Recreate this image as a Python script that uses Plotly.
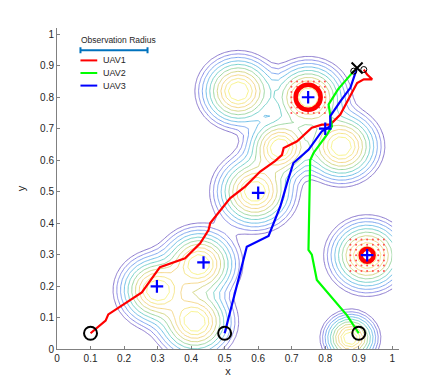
import numpy as np
import plotly.graph_objects as go

#%% Dados

tick_vals = [0, 0.1, 0.2, 0.3, 0.4, 0.5, 0.6, 0.7, 0.8, 0.9, 1]
tick_text = ['0', '0.1', '0.2', '0.3', '0.4', '0.5', '0.6', '0.7', '0.8', '0.9', '1']

# picos do campo de probabilidade (centro e largura)
peak_x = [0.297, 0.425, 0.412, 0.59, 0.665, 0.541, 0.75, 0.848, 0.925, 0.875]
peak_y = [0.187, 0.27, 0.086, 0.5, 0.64, 0.819, 0.8, 0.644, 0.297, 0.035]
peak_sigma = [0.05, 0.05, 0.05, 0.052, 0.045, 0.05, 0.05, 0.05, 0.05, 0.035]

# trajetorias
uav1_x = [0.10, 0.145, 0.153, 0.253, 0.307, 0.382, 0.427, 0.452, 0.457, 0.487, 0.516, 0.561,
          0.606, 0.651, 0.671, 0.676, 0.716, 0.76, 0.79, 0.815, 0.845, 0.895, 0.915, 0.94,
          0.925, 0.915]
uav1_y = [0.05, 0.09, 0.11, 0.18, 0.26, 0.288, 0.336, 0.378, 0.40, 0.442, 0.479, 0.516,
          0.564, 0.598, 0.617, 0.639, 0.66, 0.703, 0.713, 0.713, 0.745, 0.845, 0.857, 0.857,
          0.872, 0.888]

uav2_x = [0.9, 0.865, 0.775, 0.76, 0.75, 0.755, 0.755, 0.765, 0.805, 0.82, 0.81, 0.838, 0.885]
uav2_y = [0.05, 0.107, 0.219, 0.3, 0.315, 0.52, 0.6, 0.623, 0.681, 0.708, 0.777, 0.825, 0.883]

uav3_x = [0.5, 0.566, 0.631, 0.666, 0.686, 0.705, 0.75, 0.79, 0.815, 0.815, 0.845, 0.875, 0.895]
uav3_y = [0.05, 0.325, 0.359, 0.453, 0.527, 0.591, 0.633, 0.692, 0.708, 0.74, 0.787, 0.83, 0.893]

uav_names = ['UAV1', 'UAV2', 'UAV3']
uav_colors = ['#ff0000', '#00ff00', '#0000ff']

start_x = [0.1, 0.5, 0.9]
start_y = [0.05, 0.05, 0.05]
end_x = [0.885, 0.915]
end_y = [0.883, 0.888]
goal_x = [0.895]
goal_y = [0.893]

# alvos
target_x = [0.298, 0.437, 0.6, 0.749, 0.80, 0.925]
target_y = [0.199, 0.275, 0.496, 0.8, 0.70, 0.298]
found_x = [0.749, 0.925]
found_y = [0.8, 0.298]
found_r = [0.045, 0.025]
particle_offsets = [-0.05, -0.033, -0.017, 0, 0.017, 0.033, 0.05]

obs_radius = 0.1

#%% Campo

gx = np.linspace(0, 1, 51)
GX, GY = np.meshgrid(gx, gx)
Z = np.zeros_like(GX)
for px, py, s in zip(peak_x, peak_y, peak_sigma):
    Z += np.exp(-((GX - px)**2 + (GY - py)**2) / (2 * s**2))
D = 0.05 * np.sqrt(np.maximum(0, -2 * np.log(np.maximum(Z, 1e-12))))

# parula invertido (clareado, linhas finas)
parula = [[0.0, '#f7f27a'], [0.125, '#f4e07a'], [0.25, '#f3cd7a'], [0.375, '#bfd47a'],
          [0.5, '#6fd3b0'], [0.625, '#5cc3e0'], [0.75, '#6da6f0'], [0.875, '#7f84e8'],
          [1.0, '#7e6ac8']]

# particulas em volta dos alvos encontrados
part_x, part_y = [], []
for fx, fy, fr in zip(found_x, found_y, found_r):
    for dx in particle_offsets:
        for dy in particle_offsets:
            if np.hypot(dx, dy) >= fr:
                part_x.append(fx + dx)
                part_y.append(fy + dy)

#%% Figura

font = 'Liberation Sans, Arial, Helvetica, sans-serif'
fig = go.Figure()

fig.add_trace(go.Contour(
    x=gx, y=gx, z=D,
    contours=dict(coloring='lines', start=0.03, end=0.13, size=0.0111),
    colorscale=parula, zmin=0.002, zmax=0.13,
    line=dict(width=0.9, smoothing=0),
    showscale=False, hoverinfo='skip', showlegend=False))

fig.add_trace(go.Scatter(
    x=part_x, y=part_y, mode='markers',
    marker=dict(color='#ff5050', size=2), showlegend=False, hoverinfo='skip'))

fig.add_trace(go.Scatter(
    x=[0.17], y=[0.949], mode='markers',
    marker=dict(color='#0072BD', size=1),
    error_x=dict(type='constant', value=obs_radius, color='#0072BD', thickness=2, width=3),
    showlegend=False, hoverinfo='skip'))

for xs, ys, nm, cor in zip([uav1_x, uav2_x, uav3_x], [uav1_y, uav2_y, uav3_y], uav_names, uav_colors):
    fig.add_trace(go.Scatter(x=xs, y=ys, mode='lines', name=nm, showlegend=False,
                             line=dict(color=cor, width=2.2)))

fig.add_trace(go.Scatter(
    x=found_x, y=found_y, mode='markers',
    marker=dict(symbol='circle-open', size=[25, 13], color='#ff0000', opacity=1,
                line=dict(width=4.5, color='#ff0000')),
    showlegend=False, hoverinfo='skip'))

fig.add_trace(go.Scatter(
    x=target_x, y=target_y, mode='markers',
    marker=dict(symbol='cross-thin-open', size=9, color='#0000ff', line=dict(width=2.2)),
    showlegend=False))

fig.add_trace(go.Scatter(
    x=start_x, y=start_y, mode='markers',
    marker=dict(symbol='circle-open', size=13, color='black', line=dict(width=2)),
    showlegend=False))
fig.add_trace(go.Scatter(
    x=end_x, y=end_y, mode='markers',
    marker=dict(symbol='circle-open', size=6, color='black', line=dict(width=1)),
    showlegend=False))
fig.add_trace(go.Scatter(
    x=goal_x, y=goal_y, mode='markers',
    marker=dict(symbol='x-thin-open', size=11, color='black', line=dict(width=2)),
    showlegend=False))

fig.add_annotation(x=0.184, y=0.983, text='Observation Radius', showarrow=False,
                   font=dict(family=font, size=8.5, color='#262626'))

# legenda manual (estilo MATLAB, sem caixa)
for i, (nm, cor) in enumerate(zip(uav_names, uav_colors)):
    yl = 0.917 - 0.04 * i
    fig.add_shape(type='line', x0=0.07, x1=0.12, y0=yl, y1=yl, xref='x', yref='y',
                  line=dict(color=cor, width=2))
    fig.add_annotation(x=0.131, y=yl, text=nm, showarrow=False, xanchor='left',
                       font=dict(family=font, size=9, color='#262626'))

axis_style = dict(range=[0, 1.02], tickvals=tick_vals, ticktext=tick_text,
                  showgrid=False, zeroline=False, showline=True, linecolor='#808080',
                  linewidth=1, ticks='inside', ticklen=3, tickcolor='#808080',
                  tickfont=dict(family=font, size=10, color='#262626'))

# a pagina tem margem de 8 px no body: compensado nas margens
fig.update_layout(
    width=423, height=392,
    margin=dict(l=49, r=32, t=20, b=51),
    plot_bgcolor='white', paper_bgcolor='white',
    font=dict(family=font, color='#262626'),
    xaxis=dict(axis_style, title=dict(text='x', standoff=4, font=dict(size=11))),
    yaxis=dict(axis_style, title=dict(text='y', standoff=12, font=dict(size=11))),
    showlegend=False,
)

fig.write_html("out.html")
